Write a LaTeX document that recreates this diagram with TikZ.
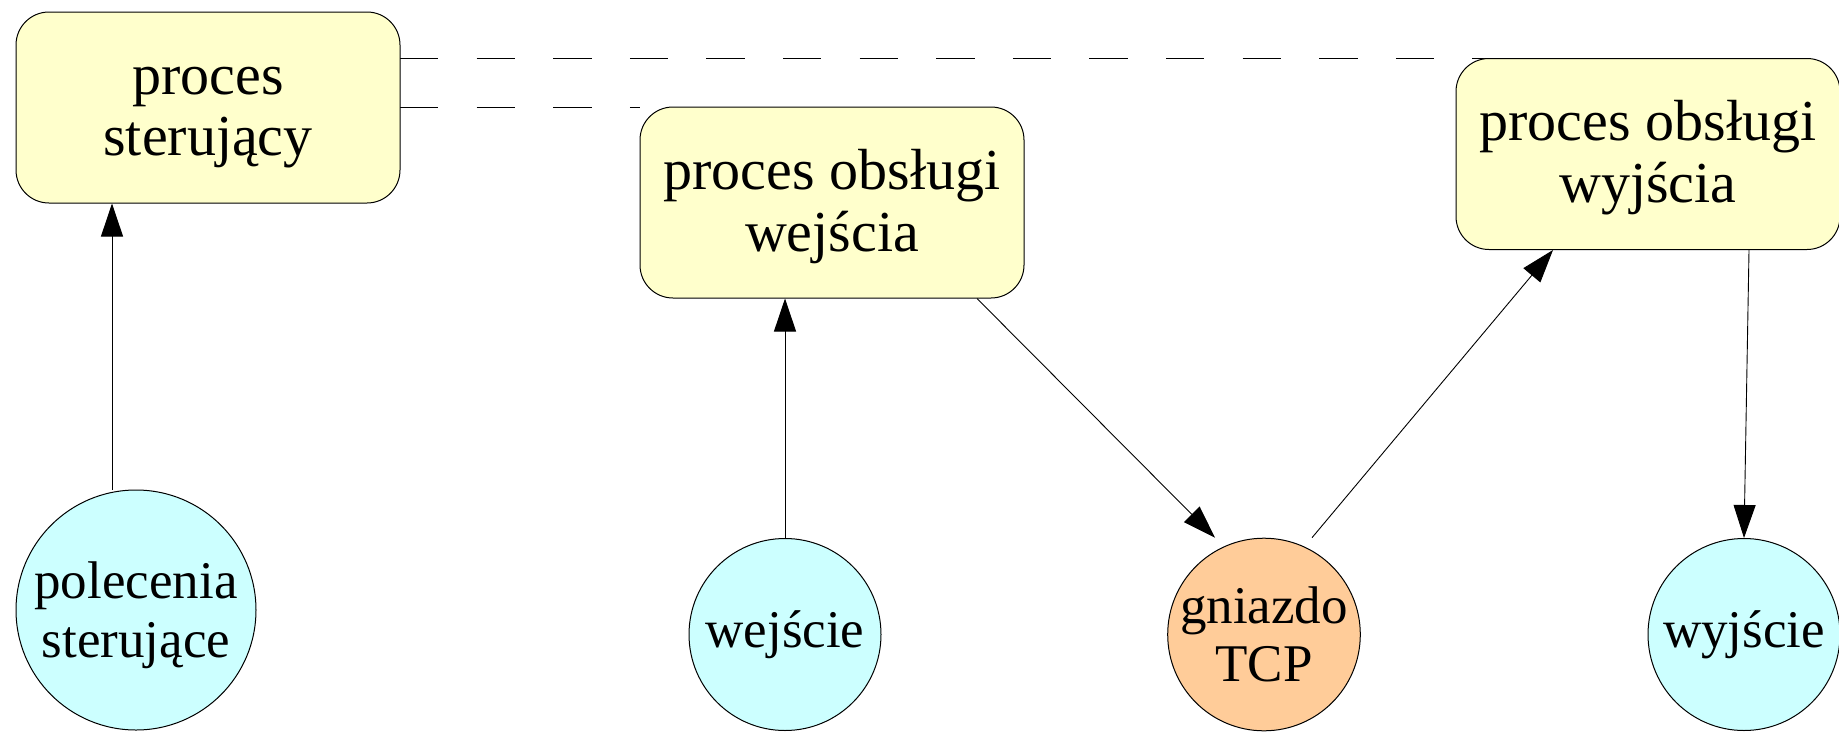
\documentclass[tikz,border=0pt]{standalone}
\usepackage{fontspec}
\setmainfont{Liberation Serif}
\usetikzlibrary{arrows.meta}

\definecolor{procfill}{RGB}{255,255,204}
\definecolor{iofill}{RGB}{204,255,255}
\definecolor{sockfill}{RGB}{255,204,153}

% fixed line boxes: process labels (48pt above, 12pt below the baseline)
% and the two-line command label (47pt above, 11pt below)
\newcommand{\lbox}{\rule[-12pt]{0pt}{60pt}}
\newcommand{\cbox}{\rule[-11pt]{0pt}{58pt}}

\tikzset{
  procbox/.style={draw=black, line width=1pt, fill=procfill, rounded corners=33pt,
    minimum width=384pt, minimum height=191pt, inner sep=0pt, align=center,
    font=\fontsize{58}{60}\selectfont},
  iocircle/.style={draw=black, line width=1pt, fill=iofill, circle, inner sep=0pt,
    align=center, font=\fontsize{53}{58}\selectfont},
  sockcircle/.style={iocircle, fill=sockfill},
  flow/.style={draw=black, line width=0.9pt, -{Triangle[length=33pt,width=22pt]}},
  link/.style={draw=black, line width=1pt, dash pattern=on 38.3pt off 38.3pt}
}

\begin{document}
\begin{tikzpicture}[x=1pt, y=-1pt]
  \useasboundingbox (0,0) rectangle (1839,731);

  % process box centres
  \coordinate (c1) at (208,107.5);
  \coordinate (c2) at (832,202.5);
  \coordinate (c3) at (1648,154);

  % dashed links between the controlling process and the workers (drawn underneath)
  \path (c1) ++(192,0) coordinate (b1e);
  \draw[link] (b1e |- 0,58) -- (c3 |- 0,58);
  \draw[link] (b1e |- 0,107) -- (640,107);

  \node[procbox] (ctl) at (c1) {\lbox proces\\\lbox sterujący};
  \node[procbox] (pin) at (c2) {\lbox proces obsługi\\\lbox wejścia};
  \node[procbox] (pout) at (c3) {\lbox proces obsługi\\\lbox wyjścia};

  % data sources and sinks
  \node[iocircle, minimum size=240pt] (cmd) at (136,610) {\cbox polecenia\\\cbox sterujące};
  \node[iocircle, minimum size=192pt] (in) at (785,634.5) {wejście};
  \node[sockcircle, minimum size=192pt] (tcp) at (1264,634.5) {gniazdo\\TCP};
  \node[iocircle, minimum size=192pt] (out) at (1744,634.5) {wyjście};

  % flows
  \draw[flow] ([xshift=-24pt]cmd.north) -- ([xshift=-24pt]cmd.north |- ctl.south);
  \draw[flow] (in.north) -- (in.north |- pin.south);
  \draw[flow] ([xshift=145pt]pin.south) -- ([xshift=-49pt]tcp.north);
  \draw[flow] ([xshift=48pt]tcp.north) -- ([xshift=-95pt]pout.south);
  \draw[flow] ([xshift=101pt]pout.south) -- (out.north);
\end{tikzpicture}
\end{document}
